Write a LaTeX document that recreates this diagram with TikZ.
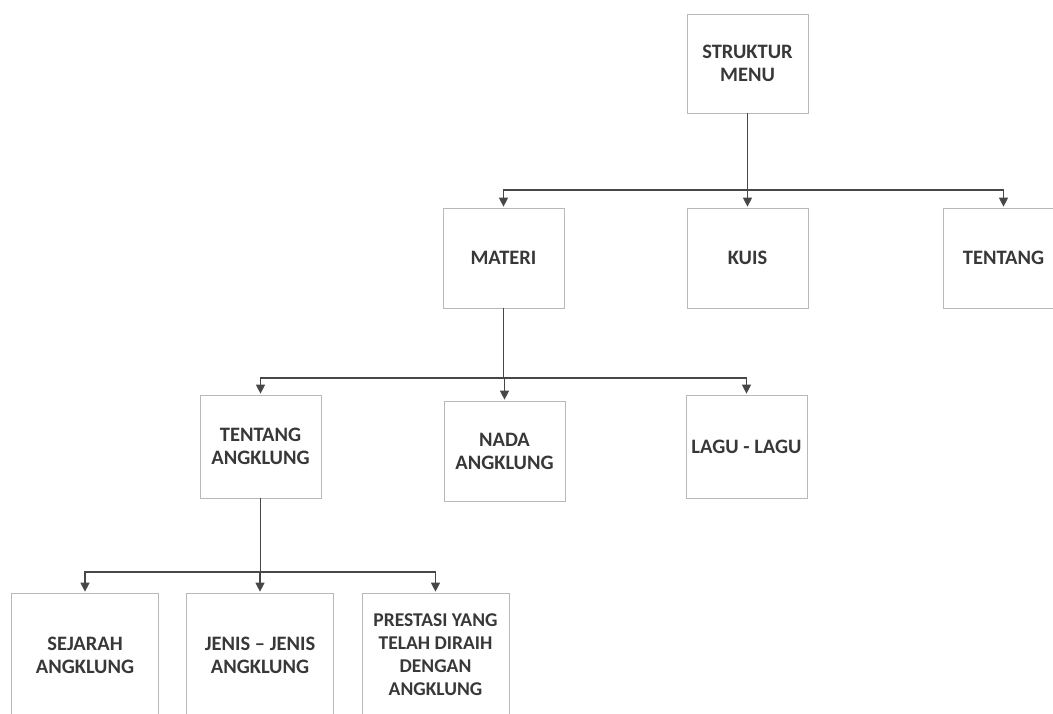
\documentclass[tikz,border=0pt]{standalone}
\usepackage{fontspec}
\setmainfont{Carlito}
\usetikzlibrary{arrows.meta}
\begin{document}
\begin{tikzpicture}[x=1pt,y=-1pt,
  box/.style={draw=black!28,line width=0.7pt,inner sep=0pt,align=center,
    minimum width=121pt,minimum height=100pt,
    font=\bfseries\fontsize{20.5}{23}\selectfont,text=black!78},
  leaf/.style={box,minimum width=147pt,minimum height=124pt},
  link/.style={draw=black!72,line width=1.3pt},
  arr/.style={link,-{Triangle[width=9pt,length=9pt]},shorten >=1pt}]
\useasboundingbox (0,0) rectangle (1053,713);
\clip (0,0) rectangle (1053,713);

% top level
\node[box,minimum height=99pt] (smenu) at (747.5,63.5) {STRUKTUR\\MENU};

% second level
\node[box] (materi)  at (503.5,258) {MATERI};
\node[box] (kuis)    at (747.5,258) {KUIS};
\node[box] (tentang) at (1003.5,258) {TENTANG};

% third level
\node[box,minimum height=103pt] (tangk) at (260.5,446.5) {TENTANG\\ANGKLUNG};
\node[box] (nada) at (504.5,451) {NADA\\ANGKLUNG};
\node[box,minimum height=103pt] (lagu) at (746.5,446.5) {LAGU - LAGU};

% fourth level
\node[leaf] (sejarah)  at (85,655) {SEJARAH\\ANGKLUNG};
\node[leaf] (jenis)    at (260,655) {JENIS -- JENIS\\ANGKLUNG};
\node[leaf,font=\bfseries\fontsize{19.5}{23}\selectfont] (prestasi) at (435.5,655)
  {PRESTASI YANG\\TELAH DIRAIH\\DENGAN\\ANGKLUNG};

% connectors
\coordinate (j1) at (747.5,190);
\draw[link] (smenu.south) -- (j1);
\draw[arr] (j1) -| (materi.north);
\draw[arr] (j1) -- (kuis.north);
\draw[arr] (j1) -| (tentang.north);

\coordinate (j2) at (503.5,378);
\draw[link] (materi.south) -- (j2);
\draw[arr] (j2) -| (tangk.north);
\draw[arr] (j2) -| (nada.north);
\draw[arr] (j2) -| (lagu.north);

\coordinate (j3) at (260.5,572);
\draw[link] (tangk.south) -- (j3);
\draw[arr] (j3) -| (sejarah.north);
\draw[arr] (j3) -| (jenis.north);
\draw[arr] (j3) -| (prestasi.north);
\end{tikzpicture}
\end{document}
